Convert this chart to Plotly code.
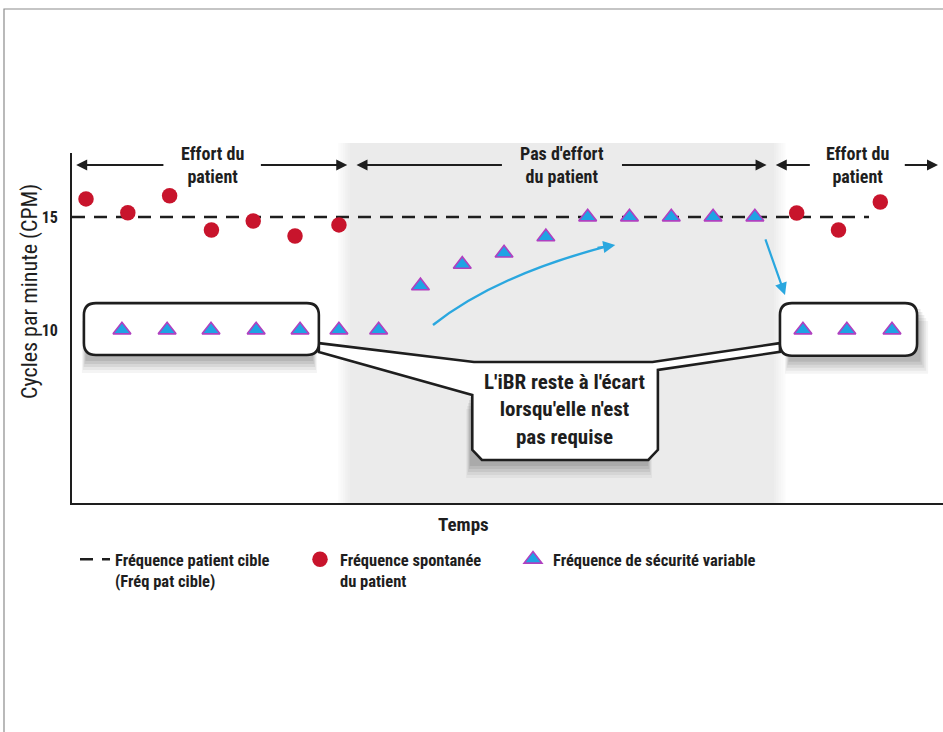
import plotly.graph_objects as go

# ---------------- data ----------------
# patient spontaneous breathing rate (CPM) over time
spont_time = [0, 1, 2, 3, 4, 5, 6.05, 17.0, 18.0, 19.0]
spont_cpm = [15.8, 15.19, 15.94, 14.42, 14.82, 14.16, 14.65, 15.18, 14.42, 15.66]

# variable backup (iBR) rate
safety_time = [0.86, 1.94, 2.99, 4.07, 5.12, 6.05, 7.0, 8.0, 9.0, 10.0, 11.0,
               12.0, 13.0, 14.0, 15.0, 16.0, 17.15, 18.2, 19.28]
safety_cpm = [10, 10, 10, 10, 10, 10, 10, 11.95, 12.9, 13.4, 14.12,
              15, 15, 15, 15, 15, 10, 10, 10]

# patient target rate
target_time = [-0.335, 18.73]
target_cpm = [15, 15]

# phases along the time axis
phase_labels = ["Effort du<br>patient", "Pas d'effort<br>du patient", "Effort du<br>patient"]
phase_bounds = [-0.335, 6.37, 16.4, 20.5]
phase_text_halfgap = [1.13, 1.4, 1.1]

y_ticks = [10, 15]
y_ticktext = ["10", "15"]

# ---------------- styling ----------------
FONT = "Liberation Sans Narrow, Roboto Condensed, DejaVu Sans Condensed, Arial Narrow, Liberation Sans, sans-serif"
INK = "#1e1e1e"
RED = "#c8142c"
BLUE = "#1ea3e4"
PURPLE = "#b040c0"
CYAN = "#2aa7df"

X0, X1 = -0.335, 20.5
Y0, Y1 = 2.345, 17.83
W, H = 943, 732
ML, MR, MT, MB = 72, 0, 153, 229
PW, PH = W - ML - MR, H - MT - MB
SX = PW / (X1 - X0)          # px per time unit
SY = PH / (Y1 - Y0)          # px per CPM


def to_paper_x(t):
    return (t - X0) / (X1 - X0)


def dx(px):
    return px / SX


def dy(px):
    return px / SY


def poly_path(pts):
    return "M " + " L ".join(f"{x:.4f},{y:.4f}" for x, y in pts) + " Z"


def rounded_rect(x0, x1, y0, y1, r=12):
    rx, ry = dx(r), dy(r)
    return (f"M {x0+rx:.4f},{y1:.4f} L {x1-rx:.4f},{y1:.4f} Q {x1:.4f},{y1:.4f} {x1:.4f},{y1-ry:.4f} "
            f"L {x1:.4f},{y0+ry:.4f} Q {x1:.4f},{y0:.4f} {x1-rx:.4f},{y0:.4f} L {x0+rx:.4f},{y0:.4f} "
            f"Q {x0:.4f},{y0:.4f} {x0:.4f},{y0+ry:.4f} L {x0:.4f},{y1-ry:.4f} Q {x0:.4f},{y1:.4f} {x0+rx:.4f},{y1:.4f} Z")


fig = go.Figure()

fig.add_trace(go.Scatter(
    x=target_time, y=target_cpm, mode="lines",
    line=dict(color=INK, width=2.6, dash="13px,9px"),
    name="Fréquence patient cible<br>(Fréq pat cible)",
    legend="legend", hoverinfo="skip"))

fig.add_trace(go.Scatter(
    x=spont_time, y=spont_cpm, mode="markers",
    marker=dict(color=RED, size=15.5, symbol="circle"),
    name="Fréquence spontanée<br>du patient", legend="legend2"))

fig.add_trace(go.Scatter(
    x=safety_time, y=safety_cpm, mode="markers",
    marker=dict(color=BLUE, size=15.5, symbol="triangle-up",
                line=dict(color=PURPLE, width=1.6)),
    name="Fréquence de sécurité variable", legend="legend3"))

shapes = []

# shaded "no effort" phase with soft edges: the part inside the plot is drawn
# in axis units (same layer as the callouts), a thin paper strip tops it off
b0, b1 = phase_bounds[1], phase_bounds[2]
top = 1 + dy(10) / (Y1 - Y0)
steps = 6
for i in range(steps):
    frac = (i + 1) / steps
    shade = int(255 - (255 - 0xeb) * frac)
    col = f"rgb({shade},{shade},{shade})"
    w0 = dx(14) * (1 - i / steps)
    shapes.append(dict(type="rect", xref="x", yref="y", layer="below",
                       x0=b0 - w0, x1=b1 + w0, y0=Y0, y1=Y1,
                       line=dict(width=0), fillcolor=col))
    shapes.append(dict(type="rect", xref="paper", yref="paper", layer="below",
                       x0=to_paper_x(b0 - w0), x1=to_paper_x(b1 + w0),
                       y0=1, y1=top, line=dict(width=0), fillcolor=col))

# callout geometry (time, CPM)
left_box = (-0.05, 5.57, 8.89, 11.19)
right_box = (16.6, 19.88, 8.86, 11.19)
main_box_low = (9.24, 13.68, 4.25, 7.3)
bubble = [
    (5.57, 9.42), (9.28, 8.58), (13.55, 8.58), (16.6, 9.42),
    (16.6, 9.03), (13.68, 8.23), (13.68, 4.7), (13.45, 4.25),
    (9.47, 4.25), (9.24, 4.7), (9.24, 7.12), (5.57, 9.03),
]

# soft drop shadows: stacked translucent rectangles shifted down
# (box, horizontal shift px, extra widening to the right px)
shadow_specs = [
    (left_box, -2, 0),
    (right_box, 5, 6),
    (main_box_low, -6, 0),
]
for k, a in [(18, 0.05), (15, 0.06), (12, 0.08), (9, 0.09), (6, 0.1)]:
    for (x0, x1, y0, y1), sx, wide in shadow_specs:
        grow = dx((18 - k) * 0.3)
        shapes.append(dict(type="rect", layer="below", line=dict(width=0),
                           fillcolor="#2a2a2a", opacity=a,
                           x0=x0 + dx(sx) + grow,
                           x1=x1 + dx(sx) - grow + dx(wide * k / 18),
                           y0=y0 - dy(k), y1=y1 - dy(k)))

shapes.append(dict(type="path", layer="below", fillcolor="white",
                   line=dict(color=INK, width=2.6), path=poly_path(bubble)))
shapes.append(dict(type="path", layer="below", fillcolor="white",
                   line=dict(color=INK, width=2.6), path=rounded_rect(*left_box)))
shapes.append(dict(type="path", layer="below", fillcolor="white",
                   line=dict(color=INK, width=2.6), path=rounded_rect(*right_box)))

# cyan curved arrow (ramp-up of backup rate)
shapes.append(dict(type="path", layer="above", line=dict(color=CYAN, width=2.4),
                   path="M 8.30,10.22 Q 9.81,12.43 12.5,13.72"))

# outer frame
shapes.append(dict(type="rect", xref="paper", yref="paper", layer="below",
                   x0=-(ML - 4) / PW, x1=1.05, y0=-1.0, y1=1 + (MT - 9) / PH,
                   line=dict(color="#8c8c8c", width=1.2), fillcolor="rgba(0,0,0,0)"))

annotations = []
hy = 17.3
for label, s, e, g in zip(phase_labels, phase_bounds[:-1], phase_bounds[1:], phase_text_halfgap):
    mid = (s + e) / 2
    annotations.append(dict(x=mid, y=hy, text=label, showarrow=False,
                            font=dict(family=FONT, size=18, color=INK, weight="bold"),
                            xanchor="center", yanchor="middle"))
    for tip, tail in [(s + 0.1, mid - g), (e - 0.12, mid + g)]:
        annotations.append(dict(x=tip, y=hy, ax=tail, ay=hy, axref="x", ayref="y",
                                text="", showarrow=True, arrowhead=2, arrowsize=1.1,
                                arrowwidth=2, arrowcolor=INK, standoff=0))

annotations.append(dict(x=11.45, y=6.46, text="L'iBR reste à l'écart<br>lorsqu'elle n'est<br>pas requise",
                        showarrow=False, font=dict(family=FONT, size=21, color=INK, weight="bold"),
                        xanchor="center", yanchor="middle"))

# axis titles
annotations.append(dict(x=9.02, y=-21 / PH, xref="x", yref="paper", text="Temps",
                        showarrow=False, xanchor="center", yanchor="middle",
                        font=dict(family=FONT, size=19, color=INK, weight="bold")))
annotations.append(dict(x=-42 / PW, y=(MT + PH - 292) / PH, xref="paper", yref="paper",
                        text="Cycles par minute (CPM)", textangle=-90,
                        showarrow=False, xanchor="center", yanchor="middle",
                        font=dict(family=FONT, size=22, color=INK)))

# arrow heads for the cyan guides
annotations.append(dict(x=12.66, y=13.76, ax=12.2, ay=13.62, axref="x", ayref="y", text="",
                        showarrow=True, arrowhead=2, arrowsize=1.1, arrowwidth=2.2,
                        arrowcolor=CYAN, standoff=0))
annotations.append(dict(x=16.72, y=11.55, ax=16.24, ay=14.07, axref="x", ayref="y", text="",
                        showarrow=True, arrowhead=2, arrowsize=1.1, arrowwidth=2.2,
                        arrowcolor=CYAN, standoff=0))

legend_common = dict(orientation="v", xanchor="left", yanchor="top", valign="top",
                     bgcolor="rgba(0,0,0,0)", borderwidth=0,
                     font=dict(family=FONT, size=16.5, color=INK, weight="bold"),
                     itemclick=False, itemdoubleclick=False)
leg_y = -(542 - (MT + PH)) / PH

fig.update_layout(
    width=W, height=H,
    margin=dict(l=ML, r=MR, t=MT, b=MB, pad=0),
    paper_bgcolor="white", plot_bgcolor="rgba(0,0,0,0)",
    showlegend=True,
    legend=dict(x=(75 - ML) / PW, y=leg_y, **legend_common),
    legend2=dict(x=(300 - ML) / PW, y=leg_y, **legend_common),
    legend3=dict(x=(513 - ML) / PW, y=leg_y, **legend_common),
    xaxis=dict(range=[X0, X1], showgrid=False, zeroline=False, showticklabels=False,
               ticks="", showline=True, linecolor=INK, linewidth=2.4),
    yaxis=dict(range=[Y0, Y1], showgrid=False, zeroline=False, ticks="",
               tickvals=y_ticks, ticktext=y_ticktext, ticklabelstandoff=9,
               tickfont=dict(family=FONT, size=16, color=INK, weight="bold"),
               showline=True, linecolor=INK, linewidth=1.8),
    shapes=shapes,
    annotations=annotations,
)

fig.write_html("out.html")
